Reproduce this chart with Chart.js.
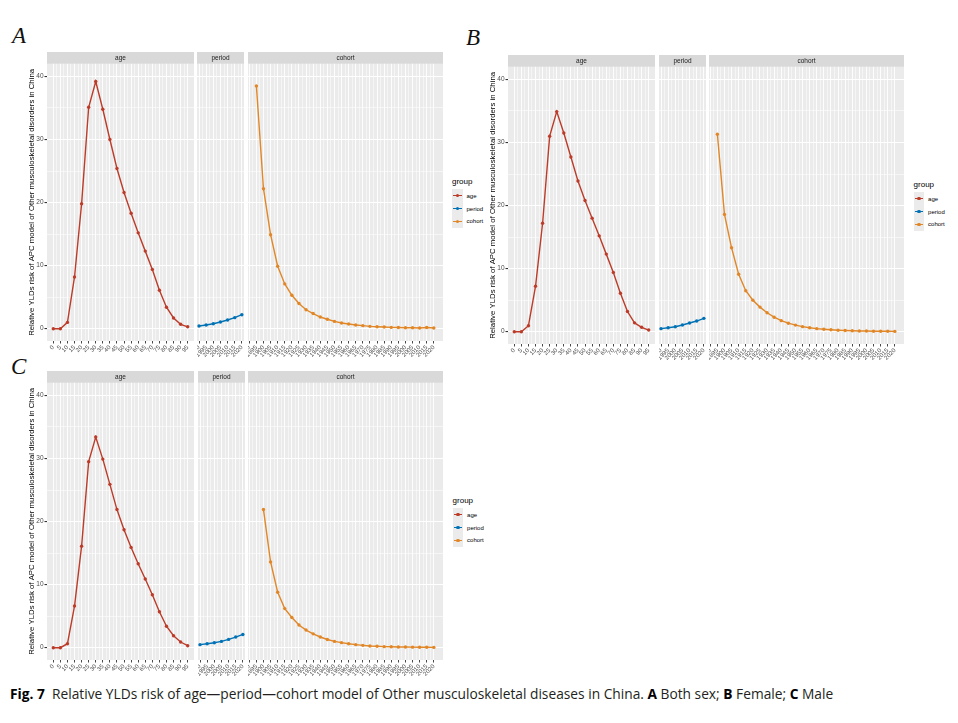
<!DOCTYPE html>
<html>
<head>
<meta charset="utf-8">
<script src="https://cdn.jsdelivr.net/npm/chart.js@4.4.1/dist/chart.umd.min.js"></script>
<style>
  html, body { margin: 0; padding: 0; background: #fff; }
  body { width: 958px; height: 723px; position: relative; overflow: hidden;
         font-family: "Liberation Sans", Arial, sans-serif; }
  canvas { position: absolute; }
  .tag { position: absolute; font-family: "Liberation Serif", serif; font-style: italic;
         font-size: 23px; line-height: 1; color: #111; }
  .lg-title { position: absolute; font-size: 8px; line-height: 1; color: #000; }
  .lg-key { position: absolute; width: 10.7px; height: 12.9px; background: #EBEBEB; }
  .lg-key .ln { position: absolute; left: 1px; right: 1px; top: 5.75px; height: 1.4px; }
  .lg-key .dt { position: absolute; left: 3.65px; top: 4.75px; width: 3.4px; height: 3.4px; border-radius: 50%; }
  .lg-lab { position: absolute; font-size: 6px; line-height: 1; color: #000; }
  .caption { position: absolute; left: 10px; top: 684px; font-family: "Open Sans", sans-serif;
             font-size: 13.75px; color: #231F20; white-space: nowrap; }
  .caption b { color: #000; }
</style>
</head>
<body>
<div class="tag" style="left:12px; top:24px;">A</div>
<div class="tag" style="left:466px; top:26px;">B</div>
<div class="tag" style="left:11px; top:355px;">C</div>
<div class="caption"><b>Fig. 7</b>&nbsp; Relative YLDs risk of age—period—cohort model of Other musculoskeletal diseases in China. <b>A</b> Both sex; <b>B</b> Female; <b>C</b> Male</div>

<script>
// tick labels
const ageLabels = ["0", "5", "10", "15", "20", "25", "30", "35", "40", "45",
  "50", "55", "60", "65", "70", "75", "80", "85", "90", "95"];
const periodLabels = ["1990", "1995", "2000", "2005", "2010", "2015", "2020"];
const cohortLabels = ["1890", "1895", "1900", "1905", "1910", "1915", "1920", "1925", "1930",
  "1935", "1940", "1945", "1950", "1955", "1960", "1965", "1970", "1975", "1980", "1985",
  "1990", "1995", "2000", "2005", "2010", "2015", "2020"];
const groups = ["age", "period", "cohort"];

// A: both sex
const ageA = [0, 0, 1.0, 8.2, 19.8, 35.1, 39.2, 34.8, 30.0, 25.4,
  21.6, 18.3, 15.2, 12.3, 9.4, 6.1, 3.4, 1.7, 0.7, 0.3];
const periodA = [0.42, 0.58, 0.79, 1.06, 1.38, 1.75, 2.22];
const cohortA = [null, 38.5, 22.2, 14.9, 9.9, 7.1, 5.3, 4.0, 3.0, 2.4, 1.85, 1.5, 1.16,
  0.9, 0.74, 0.58, 0.48, 0.37, 0.32, 0.26, 0.21, 0.2, 0.16, 0.15, 0.12, 0.2, 0.12];

// B: female
const ageB = [0, 0, 0.95, 7.2, 17.2, 31.0, 34.9, 31.5, 27.7, 23.9,
  20.8, 18.0, 15.2, 12.3, 9.4, 6.1, 3.2, 1.4, 0.7, 0.26];
const periodB = [0.48, 0.63, 0.79, 1.06, 1.38, 1.69, 2.12];
const cohortB = [null, 31.3, 18.6, 13.3, 9.1, 6.5, 5.0, 3.9, 3.0, 2.3, 1.75, 1.35, 1.05,
  0.8, 0.62, 0.48, 0.38, 0.3, 0.24, 0.19, 0.15, 0.12, 0.1, 0.08, 0.07, 0.06, 0.05];

// C: male
const ageC = [0, 0, 0.63, 6.6, 16.1, 29.5, 33.4, 29.9, 25.9, 21.9,
  18.7, 15.9, 13.3, 10.9, 8.4, 5.7, 3.4, 1.9, 0.9, 0.32];
const periodC = [0.48, 0.63, 0.79, 1.0, 1.32, 1.69, 2.1];
const cohortC = [null, null, 21.9, 13.6, 8.8, 6.2, 4.8, 3.6, 2.8, 2.2, 1.7, 1.3, 1.0,
  0.8, 0.63, 0.48, 0.37, 0.28, 0.22, 0.17, 0.15, 0.12, 0.1, 0.09, 0.08, 0.06, 0.05];

const yTicks = [0, 5, 10, 15, 20, 25, 30, 35, 40];
const yTitle = "Relative YLDs risk of APC model of Other musculoskeletal disorders in China";
const colors = { age: "#BC3C29", period: "#0072B5", cohort: "#E18727" };
const FONT = "'Liberation Sans', Arial, sans-serif";

Chart.defaults.font.family = FONT;

const rows = [
  { dx: 0, dy: 0, age: ageA, period: periodA, cohort: cohortA },
  { dx: 461.6, dy: 3, age: ageB, period: periodB, cohort: cohortB },
  { dx: 0.6, dy: 319, age: ageC, period: periodC, cohort: cohortC },
];
const facets = [
  { key: "age", left: 46.7, right: 194, xMin: -0.89, xMax: 19.89, labels: ageLabels },
  { key: "period", left: 197.3, right: 244.5, xMin: -0.28, xMax: 6.3, labels: periodLabels },
  { key: "cohort", left: 247.5, right: 442, xMin: -0.18, xMax: 27.29, labels: cohortLabels },
];
const STRIP_TOP = 51.5, STRIP_H = 11.8, PANEL_H = 277.4, XAXIS_H = 22, YAXIS_W = 22;

// grey panel + facet strip, ggplot style
const ggPanel = {
  id: "ggPanel",
  beforeDraw(chart, args, opts) {
    const { ctx, chartArea: a } = chart;
    ctx.save();
    ctx.fillStyle = "#EBEBEB";
    ctx.fillRect(a.left, a.top, a.right - a.left, a.bottom - a.top);
    ctx.fillStyle = "#D9D9D9";
    ctx.fillRect(a.left, a.top - STRIP_H, a.right - a.left, STRIP_H);
    ctx.fillStyle = "#1A1A1A";
    ctx.font = "6.5px " + FONT;
    ctx.textAlign = "center";
    ctx.textBaseline = "middle";
    ctx.fillText(opts.text, (a.left + a.right) / 2, a.top - STRIP_H / 2 + 0.5);
    ctx.restore();
  }
};

function makeFacet(row, facet, first) {
  const yw = first ? YAXIS_W : 0;
  const left = Math.round(row.dx + facet.left - yw);
  const top = Math.round(row.dy + STRIP_TOP);
  const w = Math.round(facet.right - facet.left + yw);
  const h = Math.round(STRIP_H + PANEL_H + XAXIS_H);
  const canvas = document.createElement("canvas");
  canvas.width = w;
  canvas.height = h;
  canvas.style.left = left + "px";
  canvas.style.top = top + "px";
  canvas.style.width = w + "px";
  canvas.style.height = h + "px";
  document.body.appendChild(canvas);

  const values = row[facet.key];
  const n = facet.labels.length;
  const color = colors[facet.key];

  new Chart(canvas.getContext("2d"), {
    type: "line",
    data: {
      datasets: [{
        label: facet.key,
        data: values.map((v, i) => ({ x: i, y: v })),
        borderColor: color,
        backgroundColor: color,
        borderWidth: 1.4,
        pointRadius: 1.7,
        pointBorderWidth: 0,
        tension: 0,
      }],
    },
    options: {
      responsive: false,
      animation: false,
      layout: { autoPadding: false, padding: { top: STRIP_H, left: 0, right: 0, bottom: 0 } },
      plugins: {
        legend: { display: false },
        tooltip: { enabled: false },
        ggPanel: { text: facet.key },
      },
      scales: {
        x: {
          type: "linear",
          min: facet.xMin,
          max: facet.xMax,
          afterBuildTicks: (s) => {
            const t = [];
            for (let i = 0; i < n; i++) {
              t.push({ value: i });
              if (i < n - 1) t.push({ value: i + 0.5 });
            }
            s.ticks = t;
          },
          afterFit: (s) => {
            s.height = XAXIS_H;
            s.paddingLeft = 0;
            s.paddingRight = 0;
          },
          ticks: {
            autoSkip: false,
            minRotation: 45,
            maxRotation: 45,
            padding: 0.5,
            color: "#4D4D4D",
            font: { size: 6 },
            callback: (v) => (Number.isInteger(v) ? facet.labels[v] : ""),
          },
          grid: {
            color: "#FFFFFF",
            lineWidth: (c) => (c.tick && Number.isInteger(c.tick.value) ? 0.9 : 0.5),
            tickLength: 2.5,
            tickColor: (c) => (c.tick && Number.isInteger(c.tick.value) ? "#333333" : "rgba(0,0,0,0)"),
          },
          border: { display: false },
        },
        y: {
          min: -1.95,
          max: 42,
          afterBuildTicks: (s) => { s.ticks = yTicks.map((v) => ({ value: v })); },
          afterFit: (s) => {
            s.width = yw;
            s.paddingTop = 0;
            s.paddingBottom = 0;
          },
          ticks: {
            display: first,
            padding: 1,
            color: "#4D4D4D",
            font: { size: 6.5 },
            callback: (v) => (v % 10 === 0 ? String(v) : ""),
          },
          grid: {
            color: "#FFFFFF",
            lineWidth: (c) => (c.tick && c.tick.value % 10 === 0 ? 1.1 : 0.55),
            drawTicks: first,
            tickLength: 2.5,
            tickColor: (c) => (c.tick && c.tick.value % 10 === 0 ? "#333333" : "rgba(0,0,0,0)"),
          },
          border: { display: false },
          title: {
            display: first,
            text: yTitle,
            color: "#000",
            font: { size: 7.8 },
            padding: { top: 2.1, bottom: 0 },
          },
        },
      },
    },
    plugins: [ggPanel],
  });
}

function makeLegend(row) {
  const x = 452 + row.dx, y = 177.5 + row.dy;
  const title = document.createElement("div");
  title.className = "lg-title";
  title.textContent = "group";
  title.style.left = x + "px";
  title.style.top = y + "px";
  document.body.appendChild(title);
  groups.forEach((g, i) => {
    const key = document.createElement("div");
    key.className = "lg-key";
    key.style.left = x + "px";
    key.style.top = (y + 11.5 + i * 12.9) + "px";
    key.innerHTML = '<div class="ln" style="background:' + colors[g] + '"></div>' +
      '<div class="dt" style="background:' + colors[g] + '"></div>';
    document.body.appendChild(key);
    const lab = document.createElement("div");
    lab.className = "lg-lab";
    lab.textContent = g;
    lab.style.left = (x + 14.5) + "px";
    lab.style.top = (y + 11.5 + i * 12.9 + 3.6) + "px";
    document.body.appendChild(lab);
  });
}

rows.forEach((row) => {
  facets.forEach((f, i) => makeFacet(row, f, i === 0));
  makeLegend(row);
});
</script>
</body>
</html>
